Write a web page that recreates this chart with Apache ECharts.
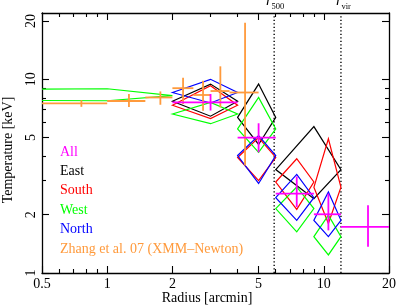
<!DOCTYPE html>
<html><head><meta charset="utf-8">
<script src="https://cdn.jsdelivr.net/npm/echarts@6/dist/echarts.min.js"></script>
<style>html,body{margin:0;padding:0;background:#fff}#c{width:399px;height:306px}</style>
</head><body><div id="c"></div><script>
// ---- axis ticks / labels ----
const xRange = [0.5, 20];
const yRange = [1, 22];
const xLabels = [0.5, 1, 2, 5, 10, 20];
const xMinorTicks = [0.6, 0.7, 0.8, 0.9, 3, 4, 6, 7, 8, 9];
const yLabels = [1, 2, 5, 10, 20];
const yMinorTicks = [3, 4, 6, 7, 8, 9];
const r500 = 5.9;
const rvir = 12.0;

// ---- East (black) ----
const eastX   = [3, 5, 9];
const eastXlo = [2, 4, 6];
const eastXhi = [4, 6, 12];
const eastT   = [7.7, 6.36, 3.42];
const eastTlo = [6.45, 4.61, 2.42];
const eastThi = [9.45, 9.45, 5.7];
// ---- South (red) ----
const southX   = [3, 5, 7.5, 10.5];
const southXlo = [2, 4, 6, 9];
const southXhi = [4, 6, 9, 12];
const southT   = [7.35, 3.95, 2.95, 2.77];
const southTlo = [6.27, 3.0, 2.13, 1.8];
const southThi = [9.26, 5.0, 3.89, 4.93];
// ---- West (green) ----
const westX   = [1, 3, 5, 7.5, 10.5];
const westXlo = [0, 2, 4, 6, 9];
const westXhi = [2, 4, 6, 9, 12];
const westT   = [8.23, 6.62, 5.55, 2.15, 1.54];
const westTlo = [7.75, 5.9, 4.2, 1.63, 1.24];
const westThi = [8.94, 7.6, 8.06, 2.78, 1.99];
// ---- North (blue) ----
const northX   = [3, 5, 7.5, 10.5];
const northXlo = [2, 4, 6, 9];
const northXhi = [4, 6, 9, 12];
const northT   = [8.55, 4.04, 2.45, 1.87];
const northTlo = [7.55, 2.9, 1.87, 1.54];
const northThi = [10.0, 5.12, 3.23, 2.62];
// ---- All (magenta) ----
const allX   = [3, 5, 7.5, 10.5, 16];
const allXlo = [2, 4, 6, 9, 12];
const allXhi = [4, 6, 9, 12, 20];
const allT   = [7.6, 5.0, 2.57, 2.01, 1.73];
const allTlo = [6.9, 4.2, 2.19, 1.66, 1.365];
const allThi = [8.4, 5.93, 3.15, 2.57, 2.24];
// ---- Zhang et al. 07 (orange) ----
const zhX   = [0.76, 1.26, 1.76, 2.24, 2.77, 3.33, 4.33];
const zhXlo = [0.5, 1.0, 1.5, 2.0, 2.5, 3.0, 3.67];
const zhXhi = [1.0, 1.5, 2.0, 2.5, 3.0, 3.67, 5.0];
const zhT   = [7.51, 7.73, 8.06, 9.0, 8.3, 8.7, 8.55];
const zhTlo = [7.21, 7.2, 7.39, 7.46, 6.88, 7.16, 3.59];
const zhThi = [7.8, 8.4, 8.66, 10.2, 9.84, 11.67, 19.6];

const C_ALL = '#ff00ff', C_EAST = '#000000', C_SOUTH = '#ff0000', C_WEST = '#00ff00', C_NORTH = '#0000ff', C_ZH = '#ff9a3c';
const FONT = 'Liberation Serif';

const L = v => Math.log10(v);
const fmt = v => String(parseFloat(Math.pow(10, v).toPrecision(3)));
const XMIN = L(xRange[0]), XMAX = L(xRange[1]), YMIN = L(yRange[0]), YMAX = L(yRange[1]);

function rows(x, xlo, xhi, y, ylo, yhi) {
  return x.map((v, i) => [L(v), L(Math.max(xlo[i], 1e-6)), L(xhi[i]), L(y[i]), L(ylo[i]), L(yhi[i])]);
}
function diamondSeries(color, x, xlo, xhi, y, ylo, yhi) {
  return {
    type: 'custom', clip: true, xAxisIndex: 0, yAxisIndex: 0, silent: true,
    data: rows(x, xlo, xhi, y, ylo, yhi), encode: { x: 0, y: 3 },
    renderItem: (p, api) => {
      const xc = api.value(0), xl = api.value(1), xh = api.value(2), yc = api.value(3), yl = api.value(4), yh = api.value(5);
      return { type: 'polygon', shape: { points: [api.coord([xl, yc]), api.coord([xc, yh]), api.coord([xh, yc]), api.coord([xc, yl])] },
        style: { fill: 'none', stroke: color, lineWidth: 1.2 } };
    }
  };
}
function crossSeries(color, x, xlo, xhi, y, ylo, yhi, w) {
  return {
    type: 'custom', clip: true, xAxisIndex: 0, yAxisIndex: 0, silent: true,
    data: rows(x, xlo, xhi, y, ylo, yhi), encode: { x: 0, y: 3 },
    renderItem: (p, api) => {
      const xc = api.value(0), xl = api.value(1), xh = api.value(2), yc = api.value(3), yl = api.value(4), yh = api.value(5);
      const a = api.coord([xl, yc]), b = api.coord([xh, yc]), c = api.coord([xc, yl]), d = api.coord([xc, yh]);
      return { type: 'group', children: [
        { type: 'line', shape: { x1: a[0], y1: a[1], x2: b[0], y2: b[1] }, style: { stroke: color, lineWidth: w } },
        { type: 'line', shape: { x1: c[0], y1: c[1], x2: d[0], y2: d[1] }, style: { stroke: color, lineWidth: w } }
      ] };
    }
  };
}
const vlineSeries = {
  type: 'custom', clip: true, xAxisIndex: 0, yAxisIndex: 0, silent: true,
  data: [[L(r500)], [L(rvir)]], encode: { x: 0 },
  renderItem: (p, api) => {
    const a = api.coord([api.value(0), YMIN]), b = api.coord([api.value(0), YMAX]);
    return { type: 'line', shape: { x1: a[0], y1: a[1], x2: b[0], y2: b[1] }, style: { stroke: '#000', lineWidth: 1.4, lineDash: [1.3, 2.2] } };
  }
};

function xAxis(pos, ticks, len, labels, line) {
  return { type: 'value', position: pos, min: XMIN, max: XMAX, gridIndex: 0,
    axisLine: { show: line, onZero: false, lineStyle: { color: '#000', width: 1.3 } },
    axisTick: { show: true, inside: true, length: len, customValues: ticks.map(L), lineStyle: { color: '#000', width: 1.1 } },
    axisLabel: labels ? { show: true, customValues: labels.map(L), formatter: fmt, fontFamily: FONT, fontSize: 14, color: '#000', margin: 4 } : { show: false },
    splitLine: { show: false } };
}
function yAxis(pos, ticks, len, labels, line) {
  return { type: 'value', position: pos, min: YMIN, max: YMAX, gridIndex: 0,
    axisLine: { show: line, onZero: false, lineStyle: { color: '#000', width: 1.3 } },
    axisTick: { show: true, inside: true, length: len, customValues: ticks.map(L), lineStyle: { color: '#000', width: 1.1 } },
    axisLabel: labels ? { show: true, customValues: labels.map(L), formatter: fmt, rotate: 90, fontFamily: FONT, fontSize: 14, color: '#000', margin: 4 } : { show: false },
    splitLine: { show: false } };
}

const legendItems = [['All', C_ALL], ['East', C_EAST], ['South', C_SOUTH], ['West', C_WEST], ['North', C_NORTH], ['Zhang et al. 07 (XMM\u2013Newton)', C_ZH]];
const txt = (extra) => Object.assign({ fill: '#000', fontFamily: FONT, fontSize: 14 }, extra);

const chart = echarts.init(document.getElementById('c'), null, { renderer: 'canvas' });
chart.setOption({
  animation: false,
  backgroundColor: '#fff',
  grid: { left: 42, right: 6, top: 13, bottom: 33, containLabel: false },
  xAxis: [
    xAxis('bottom', xLabels, 7, xLabels, true),
    xAxis('top', xLabels, 7, null, true),
    xAxis('bottom', xMinorTicks, 4, null, false),
    xAxis('top', xMinorTicks, 4, null, false)
  ],
  yAxis: [
    yAxis('left', yLabels, 7, yLabels, true),
    yAxis('right', yLabels, 7, null, true),
    yAxis('left', yMinorTicks, 4, null, false),
    yAxis('right', yMinorTicks, 4, null, false)
  ],
  series: [
    vlineSeries,
    diamondSeries(C_EAST, eastX, eastXlo, eastXhi, eastT, eastTlo, eastThi),
    diamondSeries(C_SOUTH, southX, southXlo, southXhi, southT, southTlo, southThi),
    diamondSeries(C_WEST, westX, westXlo, westXhi, westT, westTlo, westThi),
    diamondSeries(C_NORTH, northX, northXlo, northXhi, northT, northTlo, northThi),
    crossSeries(C_ZH, zhX, zhXlo, zhXhi, zhT, zhTlo, zhThi, 1.8),
    crossSeries(C_ALL, allX, allXlo, allXhi, allT, allTlo, allThi, 1.8)
  ],
  graphic: [
    ...legendItems.map((it, i) => ({ type: 'text', left: 60, top: 145 + 19.4 * i, style: txt({ text: it[0], fill: it[1] }) })),
    { type: 'text', x: 207, y: 298, style: txt({ text: 'Radius [arcmin]', textAlign: 'center', textVerticalAlign: 'middle' }) },
    { type: 'text', x: 8, y: 150, rotation: Math.PI / 2, style: txt({ text: 'Temperature [keV]', textAlign: 'center', textVerticalAlign: 'middle' }) },
    { type: 'text', x: 266, y: -6, style: txt({ text: 'r', fontStyle: 'italic', fontSize: 15, textVerticalAlign: 'top' }) },
    { type: 'text', x: 271.5, y: 2.5, style: txt({ text: '500', fontSize: 8.5, textVerticalAlign: 'top' }) },
    { type: 'text', x: 336, y: -6, style: txt({ text: 'r', fontStyle: 'italic', fontSize: 15, textVerticalAlign: 'top' }) },
    { type: 'text', x: 341.5, y: 2.5, style: txt({ text: 'vir', fontSize: 8.5, textVerticalAlign: 'top' }) }
  ]
});
</script></body></html>
